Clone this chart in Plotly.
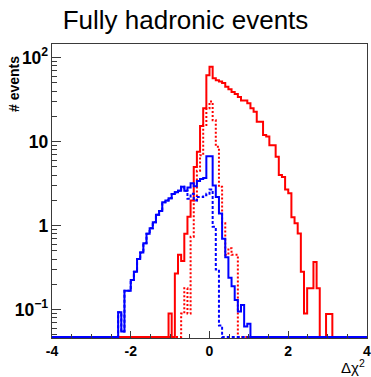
import numpy as np
import plotly.graph_objects as go

# histogram binning: 100 bins from -4 to 4
x_low, x_high, n_bins = -4.0, 4.0, 100
edges = np.linspace(x_low, x_high, n_bins + 1)

# all events, blue (solid)
blue_all = [0, 0, 0, 0, 0, 0, 0, 0, 0, 0,
            0, 0, 0, 0, 0, 0, 0, 0, 0, 0,
            0, 0.093, 0.055, 0.168, 0.168, 0.226, 0.283, 0.40, 0.48, 0.62,
            0.80, 0.93, 1.10, 1.35, 1.50, 1.90, 2.00, 2.12, 2.38, 2.50,
            2.60, 2.90, 2.60, 2.85, 3.20, 2.95, 3.40, 3.60, 3.70, 6.70,
            6.70, 3.00, 2.20, 1.40, 0.70, 0.42, 0.24, 0.19, 0.13, 0.095,
            0.114, 0.063, 0.068, 0, 0, 0, 0, 0, 0, 0,
            0, 0, 0, 0, 0, 0, 0, 0, 0, 0,
            0, 0, 0, 0, 0, 0, 0, 0, 0, 0,
            0, 0, 0, 0, 0, 0, 0, 0, 0, 0]

# subset, blue (dashed)
blue_sub = [0, 0, 0, 0, 0, 0, 0, 0, 0, 0,
            0, 0, 0, 0, 0, 0, 0, 0, 0, 0,
            0, 0.093, 0.055, 0.168, 0.168, 0.226, 0.283, 0.40, 0.48, 0.62,
            0.80, 0.93, 1.10, 1.35, 1.50, 1.90, 2.00, 2.12, 2.38, 2.50,
            2.60, 2.90, 2.60, 2.10, 2.40, 2.00, 2.20, 2.20, 2.30, 2.40,
            2.70, 0.97, 0.30, 0.065, 0, 0, 0, 0, 0, 0,
            0, 0, 0, 0, 0, 0, 0, 0, 0, 0,
            0, 0, 0, 0, 0, 0, 0, 0, 0, 0,
            0, 0, 0, 0, 0, 0, 0, 0, 0, 0,
            0, 0, 0, 0, 0, 0, 0, 0, 0, 0]

# all events, red (solid)
red_all = [0, 0, 0, 0, 0, 0, 0, 0, 0, 0,
           0, 0, 0, 0, 0, 0, 0, 0, 0, 0,
           0, 0, 0, 0, 0, 0, 0, 0, 0, 0,
           0, 0, 0, 0, 0, 0, 0, 0.09, 0, 0.27,
           0.45, 0.38, 0.80, 1.28, 2.00, 5.00, 7.60, 15.4, 25.0, 62.0,
           78.0, 57.0, 54.0, 52.0, 50.0, 45.0, 42.0, 39.0, 37.0, 34.0,
           31.0, 31.0, 28.6, 25.0, 22.7, 17.3, 17.3, 12.0, 11.5, 9.1,
           9.1, 6.6, 4.0, 3.8, 2.7, 2.43, 1.26, 1.07, 0.81, 0.283,
           0.09, 0.18, 0.18, 0.37, 0.18, 0, 0, 0.089, 0.089, 0,
           0, 0, 0, 0, 0, 0, 0, 0, 0, 0]

# subset, red (dotted)
red_sub = [0, 0, 0, 0, 0, 0, 0, 0, 0, 0,
           0, 0, 0, 0, 0, 0, 0, 0, 0, 0,
           0, 0, 0, 0, 0, 0, 0, 0, 0, 0,
           0, 0, 0, 0, 0, 0, 0, 0, 0, 0,
           0, 0.09, 0.18, 0.09, 0.74, 2.00, 4.50, 6.90, 15.8, 25.0,
           30.0, 18.0, 8.7, 2.9, 1.07, 0.45, 0.54, 0.45, 0.45, 0,
           0, 0, 0, 0, 0, 0, 0, 0, 0, 0,
           0, 0, 0, 0, 0, 0, 0, 0, 0, 0,
           0, 0, 0, 0, 0, 0, 0, 0, 0, 0,
           0, 0, 0, 0, 0, 0, 0, 0, 0, 0]

x_ticks = [-4, -2, 0, 2, 4]
y_range_log = [-1.337, 2.163]
floor = 10 ** (y_range_log[0] + 0.012)  # empty bins drawn at the frame bottom

AX = "#3a3a3a"
FONT = "Liberation Sans"


def step_trace(vals, color, dash):
    y = [v if v > 0 else floor for v in vals]
    y = y + [y[-1]]
    return go.Scatter(x=edges, y=y, mode="lines", line_shape="hv",
                      line=dict(color=color, width=2, dash=dash),
                      showlegend=False, hoverinfo="skip")


fig = go.Figure()
fig.add_trace(step_trace(red_all, "#ff0000", "solid"))
fig.add_trace(step_trace(red_sub, "#ff0000", "2px,2px"))
fig.add_trace(step_trace(blue_sub, "#0000ff", "3px,2px"))
fig.add_trace(step_trace(blue_all, "#0000ff", "solid"))

fig.update_layout(
    width=371, height=377,
    margin=dict(l=52, r=4, t=44, b=39, autoexpand=False),
    paper_bgcolor="white", plot_bgcolor="white",
    font=dict(family=FONT, color="black"),
    title=dict(text="Fully hadronic events", font=dict(size=26, family=FONT),
               xref="container", x=0.5, xanchor="center",
               yref="container", y=1 - 20 / 377, yanchor="middle"),
    xaxis=dict(range=[x_low, x_high], tickmode="array", tickvals=x_ticks,
               ticktext=[str(t) for t in x_ticks],
               ticks="inside", ticklen=7, tickwidth=1, tickcolor=AX,
               minor=dict(ticks="inside", ticklen=4, dtick=0.5, tick0=0, tickcolor=AX),
               showline=True, linecolor=AX, linewidth=1, mirror=True,
               showgrid=False, zeroline=False, ticklabeloverflow="allow",
               automargin=False,
               tickfont=dict(size=14, family=FONT, weight="bold")),
    yaxis=dict(type="log", range=y_range_log, dtick=1, exponentformat="power",
               ticks="inside", ticklen=9, tickwidth=1, tickcolor=AX,
               minor=dict(ticks="inside", ticklen=5, dtick="D1", tickcolor=AX),
               showline=True, linecolor=AX, linewidth=1, mirror=True,
               showgrid=False, zeroline=False, automargin=False,
               tickfont=dict(size=14, family=FONT, weight="bold")),
)

fig.add_annotation(text="<b># events</b>", textangle=-90, showarrow=False,
                   xref="paper", yref="paper", x=-(52 - 14) / 315, y=1 - 10 / 294,
                   xanchor="center", yanchor="top",
                   font=dict(size=14, family=FONT))
fig.add_annotation(text="Δχ<sup>2</sup>", showarrow=False,
                   xref="paper", yref="paper", x=1, y=-(366 - 338) / 294,
                   xanchor="right", yanchor="middle",
                   font=dict(size=15, family=FONT))

fig.write_html("out.html")
